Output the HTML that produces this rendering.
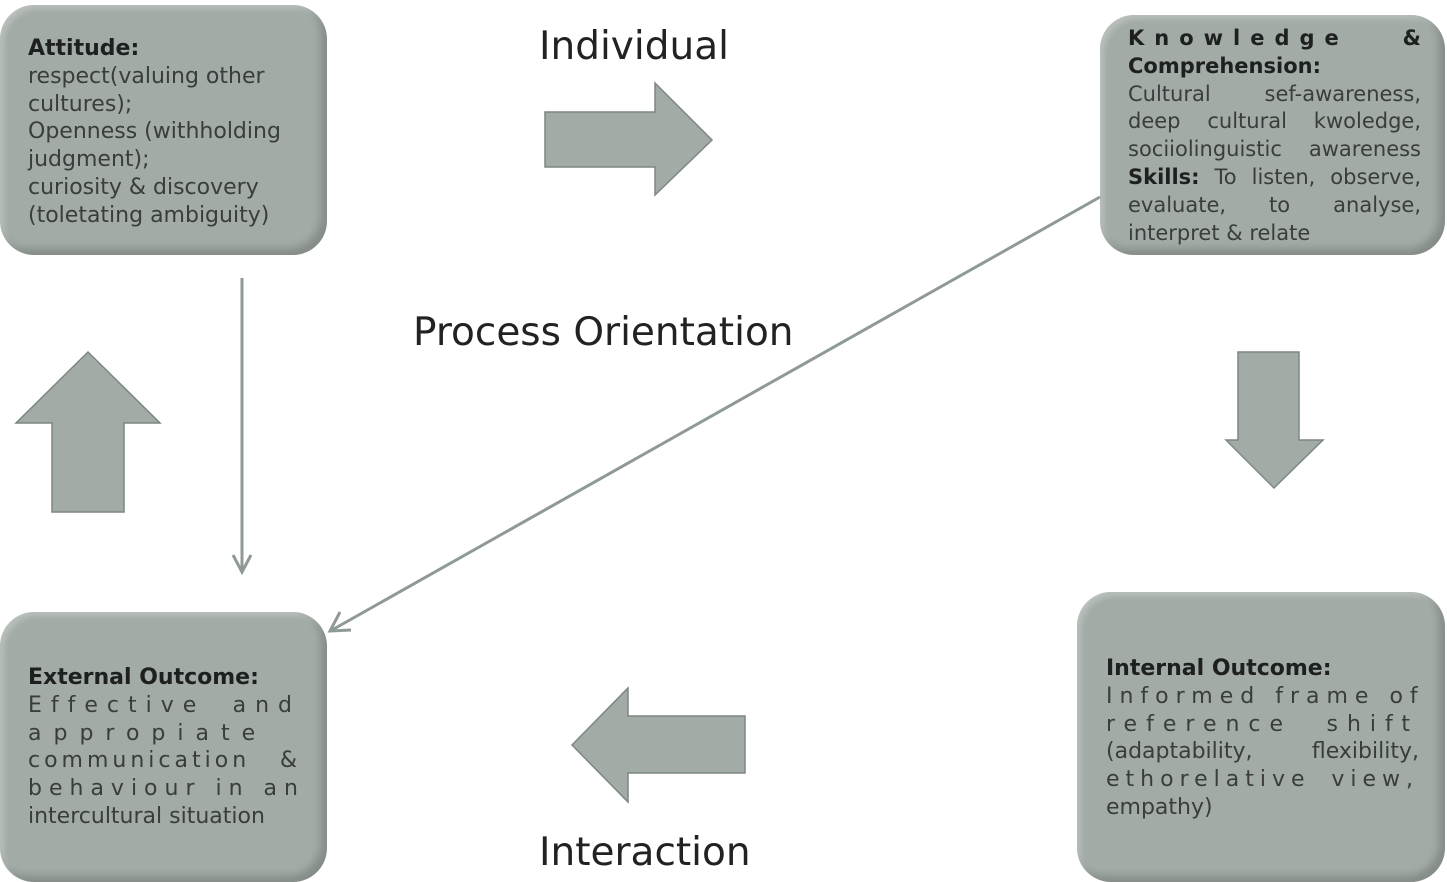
<!DOCTYPE html>
<html><head><style>
body{margin:0;width:1447px;height:882px;background:#fff;position:relative;overflow:hidden;font-family:"DejaVu Sans","Liberation Sans",sans-serif}
.box{position:absolute;background:#a2aba5;border-radius:34px;box-shadow:inset -6px -6px 8px rgba(0,0,0,0.18),inset 4px 4px 6px rgba(255,255,255,0.25);color:#3a3d3b;font-size:22px;line-height:27.8px;box-sizing:border-box}
.box b{color:#1e201f}
.j{text-align:justify;text-align-last:justify;white-space:nowrap}
.lab{position:absolute;font-size:39px;color:#222;white-space:nowrap}
</style></head><body>
<div class="box" style="left:0;top:5px;width:327px;height:250px;padding:30px 0 0 28px;">
<b>Attitude:</b><br>respect(valuing other<br>cultures);<br>Openness (withholding<br>judgment);<br>curiosity &amp; discovery<br>(toletating ambiguity)</div>
<div class="box" style="left:1100px;top:15px;width:345px;height:240px;padding:10px 24px 0 28px;font-size:21px">
<div class="j"><b style="letter-spacing:10px">Knowledge</b> <b>&amp;</b></div>
<div><b>Comprehension:</b></div>
<div class="j">Cultural sef-awareness,</div>
<div class="j">deep cultural kwoledge,</div>
<div class="j">sociiolinguistic awareness</div>
<div class="j"><b>Skills:</b> To listen, observe,</div>
<div class="j">evaluate, to analyse,</div>
<div>interpret &amp; relate</div></div>
<div class="box" style="left:0;top:612px;width:327px;height:270px;padding:52px 26px 0 28px;">
<div><b>External Outcome:</b></div>
<div class="j" style="letter-spacing:9px">Effective and</div>
<div class="j" style="letter-spacing:12px">appropiate</div>
<div class="j" style="letter-spacing:4px">communication &amp;</div>
<div class="j" style="letter-spacing:7px">behaviour in an</div>
<div>intercultural situation</div></div>
<div class="box" style="left:1077px;top:592px;width:368px;height:290px;padding:63px 26px 0 29px;">
<div><b>Internal Outcome:</b></div>
<div class="j" style="letter-spacing:7px">Informed frame of</div>
<div class="j" style="letter-spacing:9px">reference shift</div>
<div class="j">(adaptability, flexibility,</div>
<div class="j" style="letter-spacing:6px">ethorelative view,</div>
<div>empathy)</div></div>
<div class="lab" style="left:539px;top:24px;">Individual</div>
<div class="lab" style="left:413px;top:310px;">Process Orientation</div>
<div class="lab" style="left:539px;top:830px;">Interaction</div>
<svg width="1447" height="882" style="position:absolute;left:0;top:0">
<g fill="#a2aba5" stroke="#7d8781" stroke-width="1.5">
<polygon points="545,112 655,112 655,83 712,140 655,195 655,167 545,167"/>
<polygon points="745,716 628,716 628,688 572,745 628,802 628,773 745,773"/>
<polygon points="52,512 52,423 16,423 88,352 160,423 124,423 124,512"/>
<polygon points="1238,352 1299,352 1299,440 1323,440 1274,488 1226,440 1238,440"/>
</g>
<g stroke="#8f9a94" stroke-width="3" fill="none">
<line x1="242" y1="278" x2="242" y2="570"/>
<polyline points="233,555 242,572 251,555"/>
<line x1="1100" y1="197" x2="332" y2="630"/>
<polyline points="340,612 330,631 351,630"/>
</g>
</svg>
</body></html>
